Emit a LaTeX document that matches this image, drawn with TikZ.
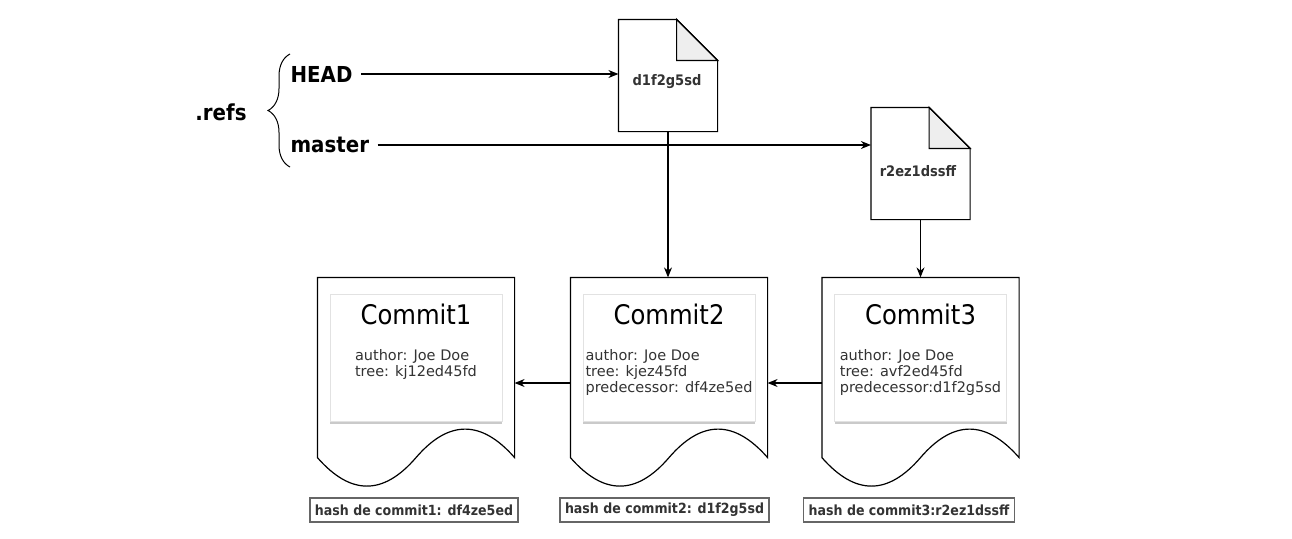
\documentclass[tikz,border=0pt]{standalone}
\usepackage{fontspec}
\setmainfont{DejaVu Sans}
\newfontfamily\condfont[FakeStretch=0.9]{DejaVu Sans}
\usepackage{tikz}
\usetikzlibrary{arrows.meta,calc,shadows,decorations.pathreplacing}
\usepackage{xcolor}
\definecolor{txtgray}{HTML}{333333}
\definecolor{foldgray}{HTML}{EEEEEE}
\definecolor{cardline}{HTML}{E2E2E2}
\definecolor{hashline}{HTML}{666666}

\begin{document}
\begin{tikzpicture}[x=1pt, y=-1pt, >={Stealth[length=10pt,width=8pt]}, line width=1.2pt,
  lbl/.style={font=\condfont\bfseries\fontsize{22}{26}\selectfont, inner sep=0pt},
  filebox/.style={minimum width=98pt, minimum height=111pt, inner sep=0pt},
  doc/.style={minimum width=196pt, minimum height=179pt, inner sep=0pt},
  card/.style={fill=white, draw=cardline, line width=0.6pt, minimum width=172pt, minimum height=127pt,
    drop shadow={shadow xshift=0pt, shadow yshift=-3pt, opacity=0.35, fill=black!60}},
  ctitle/.style={font=\condfont\fontsize{27}{32}\selectfont},
  cinfo/.style={font=\fontsize{14.5}{16}\selectfont, text=txtgray, align=left, anchor=north, inner sep=0pt},
  hashbox/.style={draw=hashline, font=\condfont\bfseries\fontsize{14}{16}\selectfont, text=txtgray,
    minimum height=24pt, inner xsep=5pt, inner ysep=0pt},
  fname/.style={font=\condfont\bfseries\fontsize{14.5}{16}\selectfont, text=txtgray}]
\useasboundingbox (0,0) rectangle (1292,538);

\node[lbl] (refs) at (221,112) {.refs};
\node[lbl, anchor=west] (head) at (290,74) {HEAD};
\node[lbl, anchor=west] (master) at (290,145) {master};
\draw[decorate, decoration={brace, amplitude=22pt}, line width=1pt] (290,167) -- (290,54);

\node[filebox] (f1) at (668,75.5) {};
\node[filebox] (f2) at (920.5,163.5) {};
\foreach \f in {f1,f2} {
  \draw[fill=foldgray] ($(\f.north east)+(-41,0)$) -- ($(\f.north east)+(-41,41)$) -- ($(\f.north east)+(0,41)$) -- cycle;
  \draw (\f.north west) -- ($(\f.north east)+(-41,0)$) -- ($(\f.north east)+(0,41)$) -- (\f.south east) -- (\f.south west) -- cycle;
}
\node[fname] (n1) at (667,82) {d1f2g5sd};
\node[fname] (n2) at (918,171) {r2ez1dssff};

\foreach \i/\x in {1/416,2/669,3/920.5} {
  \node[doc] (c\i) at (\x,367.5) {};
  \draw (c\i.south west) -- (c\i.north west) -- (c\i.north east) -- (c\i.south east)
    .. controls ($(c\i.south)+(65.3,-38)$) and ($(c\i.south)+(32.7,-38)$) .. (c\i.south)
    .. controls ($(c\i.south)+(-32.7,38)$) and ($(c\i.south)+(-65.3,38)$) .. (c\i.south west);
  \node[card] (k\i) at (\x,357.5) {};
  \node[ctitle] (t\i) at (\x,314) {Commit\i};
}
\node[cinfo] (i1) at (416,349) {author: Joe Doe\\tree: kj12ed45fd};
\node[cinfo] (i2) at (669,349) {author: Joe Doe\\tree: kjez45fd\\predecessor: df4ze5ed};
\node[cinfo] (i3) at (920.5,349) {author: Joe Doe\\tree: avf2ed45fd\\predecessor:d1f2g5sd};

\node[hashbox] (h1) at (414,510) {hash de commit1: df4ze5ed};
\node[hashbox] (h2) at (664.5,510) {hash de commit2: d1f2g5sd};
\node[hashbox] (h3) at (909,510) {hash de commit3:r2ez1dssff};

\draw[->, shorten <=8pt] (head.east) -- (head.east -| f1.west);
\draw[->, shorten <=8pt] (master.east) -- (master.east -| f2.west);
\draw[->] (f1.south) -- (f1.south |- c2.north);
\draw[->] (f2.south) -- (c3.north);
\draw[->] ([yshift=-15.5pt]c2.west) -- ([yshift=-15.5pt]c1.east);
\draw[->] ([yshift=-15.5pt]c3.west) -- ([yshift=-15.5pt]c2.east);
\end{tikzpicture}
\end{document}
